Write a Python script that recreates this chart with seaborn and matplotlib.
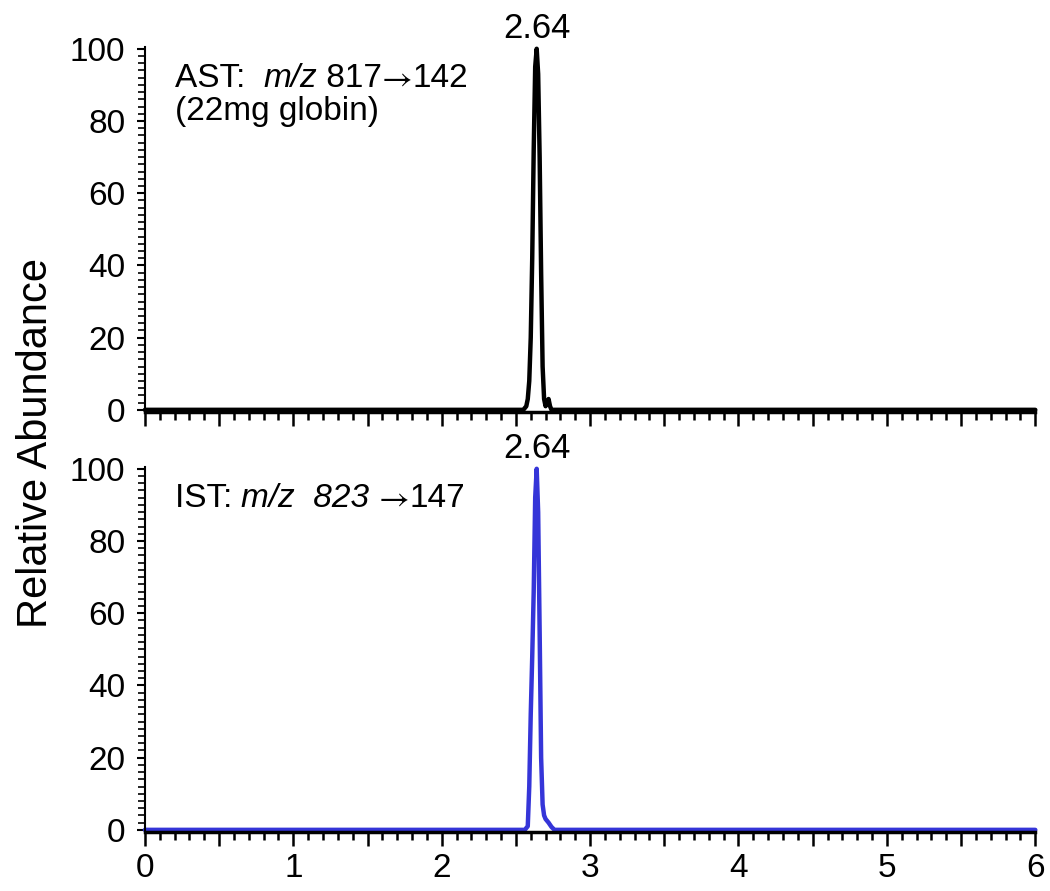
import numpy as np
import pandas as pd
import matplotlib
matplotlib.use("Agg")
import matplotlib.pyplot as plt
from matplotlib.ticker import MultipleLocator
import seaborn as sns

# retention time (min) and relative abundance
ast_time = [0.0, 2.55, 2.57, 2.58, 2.59, 2.60, 2.61, 2.62, 2.63, 2.64, 2.65, 2.66, 2.67, 2.68,
            2.69, 2.70, 2.71, 2.72, 2.73, 2.74, 6.0]
ast_abund = [0, 0, 1, 3, 8, 20, 42, 72, 95, 100, 93, 70, 38, 12,
             3, 1, 2, 3, 1, 0, 0]

ist_time = [0.0, 2.56, 2.58, 2.59, 2.60, 2.61, 2.62, 2.63, 2.64, 2.65, 2.66, 2.67, 2.68,
            2.69, 2.70, 2.72, 2.74, 2.76, 6.0]
ist_abund = [0, 0, 1, 12, 32, 48, 66, 92, 100, 88, 55, 20, 7,
             4, 3, 2, 0.8, 0, 0]

peak_rt = 2.64
x_ticks = [0, 1, 2, 3, 4, 5, 6]
y_ticks = [0, 20, 40, 60, 80, 100]

# label pieces: (text, italic?, font family)
ast_label = [("AST:  ", False, None), ("m/z", True, None), (" 817", False, None),
             ("\u2192", False, "STIXGeneral"), ("142", False, None)]
ast_note = "(22mg globin)"
ist_label = [("IST: ", False, None), ("m/z  823", True, None), (" ", False, None),
             ("\u2192", False, "STIXGeneral"), ("147", False, None)]

sns.set_style("ticks")
plt.rcParams['font.family'] = ['Liberation Sans', 'DejaVu Sans']
for key in ['text.color', 'axes.labelcolor', 'xtick.color', 'ytick.color', 'axes.edgecolor']:
    plt.rcParams[key] = 'black'

fig = plt.figure(figsize=(10.5, 8.91), dpi=100)
ax1 = fig.add_axes([0.138, 0.5376, 0.848, 0.4097])
ax2 = fig.add_axes([0.138, 0.0662, 0.848, 0.4097])

df_ast = pd.DataFrame({"time": ast_time, "abund": ast_abund})
df_ist = pd.DataFrame({"time": ist_time, "abund": ist_abund})

sns.lineplot(data=df_ast, x="time", y="abund", ax=ax1, color="black", linewidth=3.2, clip_on=False)
sns.lineplot(data=df_ist, x="time", y="abund", ax=ax2, color="#3535d8", linewidth=3.2, clip_on=False)

major_x = np.round(np.arange(0, 6.01, 0.5), 1)

for ax in (ax1, ax2):
    ax.set_xlim(0, 6)
    ax.set_ylim(-0.6, 100.5)
    ax.set_xticks(major_x)
    ax.set_xticklabels([str(int(t)) if t in x_ticks else "" for t in major_x])
    ax.set_yticks(y_ticks)
    ax.xaxis.set_minor_locator(MultipleLocator(0.1))
    ax.yaxis.set_minor_locator(MultipleLocator(2))
    ax.spines['top'].set_visible(False)
    ax.spines['right'].set_visible(False)
    ax.spines['left'].set_linewidth(1.5)
    ax.spines['bottom'].set_linewidth(2.5)
    ax.tick_params(axis='x', which='major', length=10, width=1.8, direction='out', labelsize=24, pad=5)
    ax.tick_params(axis='x', which='minor', length=6, width=1.8, direction='out')
    ax.tick_params(axis='y', which='major', length=6, width=1.5, direction='out', labelsize=24, pad=8)
    ax.tick_params(axis='y', which='minor', length=5, width=1.2, direction='out')
    ax.set_xlabel("")
    ax.set_ylabel("")
    ax.text(peak_rt, 101, f"{peak_rt:.2f}", ha='center', va='bottom', fontsize=25)

ax1.tick_params(axis='x', labelbottom=False)


def chained_label(ax, x, y, pieces, size=24):
    first = None
    prev = None
    for txt, italic, fam in pieces:
        kw = dict(fontsize=size, fontstyle='italic' if italic else 'normal')
        if fam:
            kw['family'] = [fam]
        if prev is None:
            prev = ax.text(x, y, txt, ha='left', va='top', **kw)
            first = prev
        else:
            prev = ax.annotate(txt, xy=(1, 0), xycoords=prev, ha='left', va='bottom', **kw)
    return first


first = chained_label(ax1, 0.2, 96, ast_label)
ax1.annotate(ast_note, xy=(0, 0), xycoords=first, xytext=(0, -1), textcoords='offset points',
             ha='left', va='top', fontsize=24)
chained_label(ax2, 0.2, 96, ist_label)

fig.text(0.034, 0.503, "Relative Abundance", rotation=90, ha='center', va='center', fontsize=30)

fig.savefig("out.png", dpi=100)
